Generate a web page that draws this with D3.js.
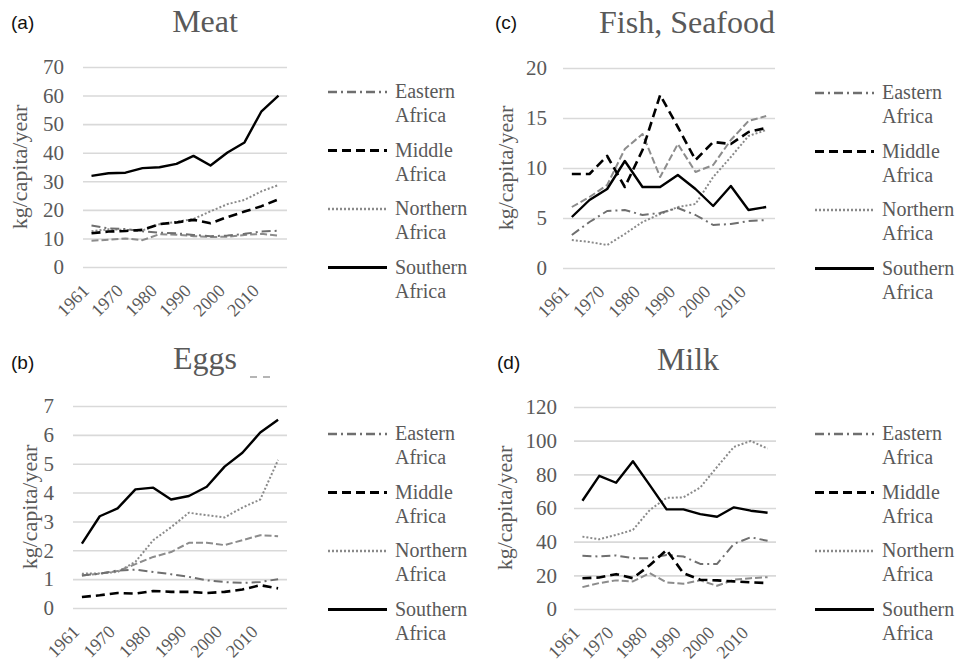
<!DOCTYPE html>
<html>
<head>
<meta charset="utf-8">
<script src="https://cdn.jsdelivr.net/npm/d3@7/dist/d3.min.js"></script>
<style>
  html, body { margin: 0; padding: 0; background: #fff; }
  svg { display: block; }
</style>
</head>
<body>
<svg id="chart" width="960" height="665"></svg>
<script>
// Per-capita supply (kg/capita/year) by African region, FAO food balance years
const years = ["1961", "1965", "1970", "1975", "1980", "1985", "1990", "1995", "2000", "2005", "2010", "2013"];
const tickYears = ["1961", "1970", "1980", "1990", "2000", "2010"];
const regionNames = ["Eastern", "Middle", "Northern", "Southern"];

// (a) Meat
const meatEastern  = [14.5, 13.5, 13.3, 12.5, 12.0, 11.8, 11.2, 10.8, 11.0, 11.6, 12.4, 12.7];
const meatMiddle   = [11.8, 12.4, 12.6, 13.0, 15.0, 15.6, 16.5, 15.3, 17.5, 19.4, 21.3, 23.7];
const meatNorthern = [12.5, 13.2, 13.0, 12.8, 15.0, 15.8, 16.8, 19.5, 22.0, 23.5, 26.5, 28.7];
const meatSouthern = [31.9, 32.8, 33.0, 34.6, 34.9, 36.1, 38.9, 35.5, 40.1, 43.6, 54.5, 60.0];
const meatWestern  = [9.2, 9.5, 10.0, 9.4, 11.5, 11.3, 10.8, 10.5, 10.6, 11.2, 11.6, 11.0];

// (b) Eggs
const eggsEastern  = [1.13, 1.19, 1.30, 1.33, 1.25, 1.17, 1.08, 0.96, 0.90, 0.87, 0.90, 1.00];
const eggsMiddle   = [0.38, 0.44, 0.52, 0.50, 0.59, 0.56, 0.56, 0.52, 0.56, 0.64, 0.79, 0.68];
const eggsNorthern = [1.19, 1.20, 1.25, 1.60, 2.35, 2.80, 3.30, 3.22, 3.14, 3.48, 3.76, 5.13];
const eggsSouthern = [2.23, 3.18, 3.45, 4.11, 4.17, 3.76, 3.88, 4.20, 4.90, 5.38, 6.08, 6.52];
const eggsWestern  = [1.13, 1.19, 1.28, 1.52, 1.77, 1.94, 2.26, 2.26, 2.18, 2.35, 2.52, 2.49];

// (c) Fish, Seafood
const fishEastern  = [3.3, 4.6, 5.7, 5.8, 5.3, 5.5, 6.0, 5.3, 4.3, 4.4, 4.7, 4.8];
const fishMiddle   = [9.4, 9.4, 11.2, 8.1, 11.8, 17.3, 14.1, 10.8, 12.6, 12.4, 13.6, 14.0];
const fishNorthern = [2.8, 2.6, 2.3, 3.4, 4.6, 5.4, 6.1, 6.4, 9.1, 11.1, 13.2, 13.8];
const fishSouthern = [5.1, 6.8, 7.9, 10.7, 8.1, 8.1, 9.3, 7.9, 6.2, 8.2, 5.8, 6.1];
const fishWestern  = [6.1, 7.1, 8.3, 11.9, 13.4, 9.1, 12.4, 9.6, 10.3, 12.8, 14.7, 15.2];

// (d) Milk
const milkEastern  = [31.6, 31.2, 31.8, 30.2, 30.2, 32.1, 31.2, 26.8, 26.8, 38.7, 42.6, 40.5];
const milkMiddle   = [18.3, 18.7, 20.7, 18.3, 26.0, 35.0, 21.3, 17.4, 17.0, 16.4, 15.8, 15.4];
const milkNorthern = [43.0, 41.4, 44.0, 47.0, 58.8, 66.0, 66.3, 72.2, 84.4, 96.3, 99.8, 95.3];
const milkSouthern = [64.3, 79.1, 75.0, 87.8, 73.6, 59.2, 59.2, 56.4, 54.8, 60.4, 58.4, 57.2];
const milkWestern  = [13.0, 15.4, 17.0, 16.4, 21.3, 15.8, 15.0, 17.0, 13.8, 17.4, 18.3, 18.9];

// Line styles per region (western is drawn without a legend entry)
const styles = {
  Eastern:  { stroke: "#6f6f6f", width: 2,   dash: "9,4,2,4" },
  Middle:   { stroke: "#000000", width: 2.6, dash: "9,5" },
  Northern: { stroke: "#8a8a8a", width: 2,   dash: "2,2" },
  Southern: { stroke: "#000000", width: 2.4, dash: null },
  Western:  { stroke: "#8c8c8c", width: 2,   dash: "7,3" }
};

const panels = [
  { tag: "(a)", title: "Meat", yMax: 70, yStep: 10,
    series: { Eastern: meatEastern, Middle: meatMiddle, Northern: meatNorthern, Southern: meatSouthern, Western: meatWestern },
    box: { x0: 83, x1: 287, yTop: 67, yBot: 267 }, tagPos: [11, 29], titleX: 205, titleY: 32,
    ylabX: 27, tickPad: 19, legendX: 328, legendY: 92 },
  { tag: "(c)", title: "Fish, Seafood", yMax: 20, yStep: 5,
    series: { Eastern: fishEastern, Middle: fishMiddle, Northern: fishNorthern, Southern: fishSouthern, Western: fishWestern },
    box: { x0: 563, x1: 775, yTop: 68, yBot: 268 }, tagPos: [495, 29], titleX: 687, titleY: 33,
    ylabX: 513, tickPad: 16, legendX: 815, legendY: 93 },
  { tag: "(b)", title: "Eggs", yMax: 7, yStep: 1,
    series: { Eastern: eggsEastern, Middle: eggsMiddle, Northern: eggsNorthern, Southern: eggsSouthern, Western: eggsWestern },
    box: { x0: 73, x1: 287, yTop: 406, yBot: 608 }, tagPos: [11, 369], titleX: 205, titleY: 369,
    ylabX: 37, tickPad: 19, legendX: 328, legendY: 434 },
  { tag: "(d)", title: "Milk", yMax: 120, yStep: 20,
    series: { Eastern: milkEastern, Middle: milkMiddle, Northern: milkNorthern, Southern: milkSouthern, Western: milkWestern },
    box: { x0: 574, x1: 776, yTop: 407, yBot: 609 }, tagPos: [497, 369], titleX: 688, titleY: 370,
    ylabX: 512, tickPad: 17, legendX: 815, legendY: 434 }
];

const svg = d3.select("#chart");
const SERIF = "Liberation Serif";
const SANS = "Liberation Sans";
const textGray = "#595959";

panels.forEach(p => {
  const g = svg.append("g");
  const b = p.box;

  const x = d3.scalePoint().domain(years).range([b.x0, b.x1]).padding(0.5);
  const y = d3.scaleLinear().domain([0, p.yMax]).range([b.yBot, b.yTop]);
  const yTicks = d3.range(0, p.yMax + p.yStep / 2, p.yStep);

  // panel tag and title
  g.append("text").attr("x", p.tagPos[0]).attr("y", p.tagPos[1])
    .attr("font-family", SANS).attr("font-size", 19).attr("fill", "#111").text(p.tag);
  g.append("text").attr("x", p.titleX).attr("y", p.titleY)
    .attr("text-anchor", "middle").attr("font-family", SERIF).attr("font-size", 32)
    .attr("fill", textGray).text(p.title);

  // horizontal gridlines + y tick labels
  const yAxis = d3.axisLeft(y).tickValues(yTicks).tickSize(-(b.x1 - b.x0)).tickPadding(p.tickPad).tickFormat(d3.format("d"));
  const ya = g.append("g").attr("transform", `translate(${b.x0},0)`).call(yAxis)
    .attr("font-family", SERIF).attr("font-size", 21);
  ya.select(".domain").remove();
  ya.selectAll(".tick line").attr("stroke", "#d9d9d9").attr("stroke-width", 1.6);
  ya.selectAll(".tick text").attr("fill", textGray);

  // x tick labels (every other year, rotated)
  const xAxis = d3.axisBottom(x).tickValues(tickYears).tickSize(0).tickPadding(0);
  const xa = g.append("g").attr("transform", `translate(0,${b.yBot})`).call(xAxis)
    .attr("font-family", SERIF).attr("font-size", 18);
  xa.select(".domain").remove();
  xa.selectAll(".tick text")
    .attr("fill", textGray)
    .attr("text-anchor", "end")
    .attr("dy", 0)
    .attr("transform", "translate(-2,25) rotate(-45)");

  // y axis title
  g.append("text")
    .attr("transform", `translate(${p.ylabX},${(b.yTop + b.yBot) / 2}) rotate(-90)`)
    .attr("text-anchor", "middle").attr("font-family", SERIF).attr("font-size", 22)
    .attr("fill", textGray).text("kg/capita/year");

  // series lines
  const line = d3.line().x((d, i) => x(years[i])).y(d => y(d));
  ["Western", "Northern", "Eastern", "Middle", "Southern"].forEach(name => {
    const s = styles[name];
    g.append("path").datum(p.series[name])
      .attr("d", line).attr("fill", "none")
      .attr("stroke", s.stroke).attr("stroke-width", s.width)
      .attr("stroke-dasharray", s.dash)
      .attr("stroke-linejoin", "round");
  });

  // legend
  regionNames.forEach((name, i) => {
    const s = styles[name];
    const ly = p.legendY + i * 58.5;
    g.append("line").attr("x1", p.legendX).attr("x2", p.legendX + 59)
      .attr("y1", ly).attr("y2", ly)
      .attr("stroke", s.stroke).attr("stroke-width", s.width + 0.4)
      .attr("stroke-dasharray", s.dash);
    const t = g.append("text").attr("font-family", SERIF).attr("font-size", 20).attr("fill", textGray);
    t.append("tspan").attr("x", p.legendX + 67).attr("y", ly + 6).text(name);
    t.append("tspan").attr("x", p.legendX + 67).attr("y", ly + 30).text("Africa");
  });
});

// clipped legend swatch peeking out under the Eggs title
svg.append("line").attr("x1", 250).attr("x2", 274).attr("y1", 377).attr("y2", 377)
  .attr("stroke", "#b5b5b5").attr("stroke-width", 2).attr("stroke-dasharray", "7,6");
</script>
</body>
</html>
